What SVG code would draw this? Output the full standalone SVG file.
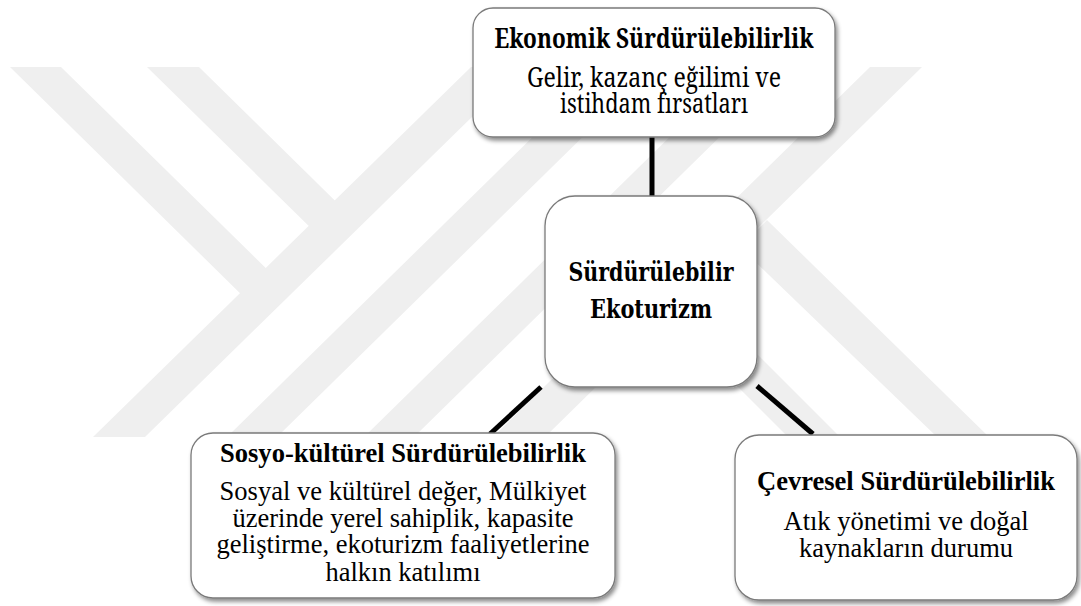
<svg xmlns="http://www.w3.org/2000/svg" width="1081" height="606" viewBox="0 0 1081 606">
  <defs>
    <filter id="shadow" x="-10%" y="-10%" width="125%" height="130%">
      <feDropShadow dx="2" dy="3" stdDeviation="2" flood-color="#000" flood-opacity="0.45"/>
    </filter>
  </defs>
  <rect width="1081" height="606" fill="#ffffff"/>
  <g id="watermark" fill="#efefef">
    <polygon points="10,67 61,67 278,280 252,305"/>
    <polygon points="147,67 199,67 346,211.5 320,237"/>
    <polygon points="471,67 523,67 145,437 93,437"/>
    <polygon points="604,67 654,67 277,437 227,437"/>
    <polygon points="741,67 791,67 414,437 364,437"/>
    <polygon points="870,67 922,67 545,437 493,437"/>
    <polygon points="740,247 767,220 989,437 937,437"/>
    <polygon points="668,317 694,291 840,437 788,437"/>
  </g>
  <g id="connectors" stroke="#000000" stroke-width="5" fill="none">
    <line x1="652" y1="137" x2="652" y2="197"/>
    <line x1="541" y1="387" x2="490" y2="434"/>
    <line x1="757" y1="386" x2="813" y2="434"/>
  </g>
  <g id="node-ekonomik" font-family="Noto Serif" font-size="26.5" text-anchor="middle" fill="#000">
    <rect x="473" y="8" width="362" height="129" rx="20" fill="#fff" stroke="#7a7a7a" stroke-width="1.3" filter="url(#shadow)"/>
    <text x="654" y="48" font-weight="bold" textLength="319" lengthAdjust="spacingAndGlyphs">Ekonomik Sürdürülebilirlik</text>
    <text x="654" y="87" textLength="254" lengthAdjust="spacingAndGlyphs">Gelir, kazanç eğilimi ve</text>
    <text x="654" y="113" textLength="188" lengthAdjust="spacingAndGlyphs">istihdam fırsatları</text>
  </g>
  <g id="node-center" font-family="DejaVu Serif" font-size="26.5" text-anchor="middle" fill="#000">
    <rect x="545" y="196" width="212" height="191" rx="30" fill="#fff" stroke="#7a7a7a" stroke-width="1.3" filter="url(#shadow)"/>
    <text x="651" y="281" font-weight="bold" textLength="165" lengthAdjust="spacingAndGlyphs">Sürdürülebilir</text>
    <text x="651" y="318" font-weight="bold" textLength="122" lengthAdjust="spacingAndGlyphs">Ekoturizm</text>
  </g>
  <g id="node-sosyo" font-family="Liberation Serif" font-size="26.5" text-anchor="middle" fill="#000">
    <rect x="191" y="433" width="424" height="165" rx="22" fill="#fff" stroke="#7a7a7a" stroke-width="1.3" filter="url(#shadow)"/>
    <text x="403" y="462" font-weight="bold" textLength="366" lengthAdjust="spacingAndGlyphs">Sosyo-kültürel Sürdürülebilirlik</text>
    <text x="403" y="500" textLength="367" lengthAdjust="spacingAndGlyphs">Sosyal ve kültürel değer, Mülkiyet</text>
    <text x="403" y="527" textLength="341" lengthAdjust="spacingAndGlyphs">üzerinde yerel sahiplik, kapasite</text>
    <text x="403" y="553" textLength="373" lengthAdjust="spacingAndGlyphs">geliştirme, ekoturizm faaliyetlerine</text>
    <text x="403" y="581" textLength="155" lengthAdjust="spacingAndGlyphs">halkın katılımı</text>
  </g>
  <g id="node-cevresel" font-family="Tinos" font-size="26.5" text-anchor="middle" fill="#000">
    <rect x="735" y="435" width="342" height="165" rx="24" fill="#fff" stroke="#7a7a7a" stroke-width="1.3" filter="url(#shadow)"/>
    <text x="906" y="490" font-weight="bold" textLength="298" lengthAdjust="spacingAndGlyphs">Çevresel Sürdürülebilirlik</text>
    <text x="906" y="530" textLength="245" lengthAdjust="spacingAndGlyphs">Atık yönetimi ve doğal</text>
    <text x="906" y="557" textLength="214" lengthAdjust="spacingAndGlyphs">kaynakların durumu</text>
  </g>
</svg>
